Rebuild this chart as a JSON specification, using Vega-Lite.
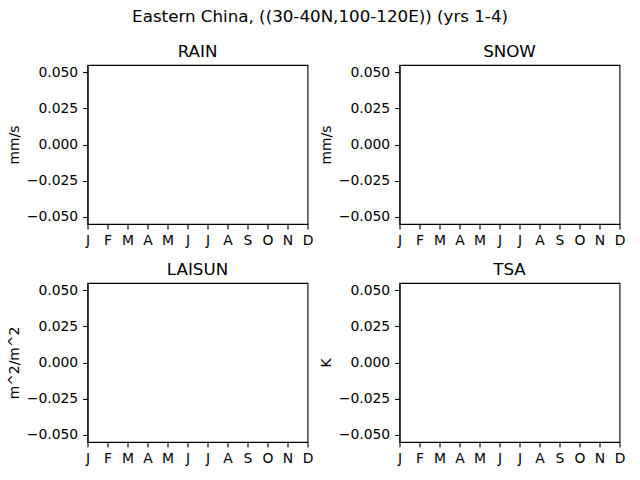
{
  "$schema": "https://vega.github.io/schema/vega-lite/v6.json",
  "autosize": "none",
  "padding": {"left": 87.5, "top": 65, "right": 552.5, "bottom": 415},
  "title": {"text": "Eastern China, ((30-40N,100-120E)) (yrs 1-4)", "anchor": "middle", "baseline": "alphabetic", "offset": 5, "dx": 4},
  "data": {
    "values": [
      {"variable": "RAIN", "month": 1, "value": null}, {"variable": "RAIN", "month": 2, "value": null},
      {"variable": "RAIN", "month": 3, "value": null}, {"variable": "RAIN", "month": 4, "value": null},
      {"variable": "RAIN", "month": 5, "value": null}, {"variable": "RAIN", "month": 6, "value": null},
      {"variable": "RAIN", "month": 7, "value": null}, {"variable": "RAIN", "month": 8, "value": null},
      {"variable": "RAIN", "month": 9, "value": null}, {"variable": "RAIN", "month": 10, "value": null},
      {"variable": "RAIN", "month": 11, "value": null}, {"variable": "RAIN", "month": 12, "value": null},
      {"variable": "SNOW", "month": 1, "value": null}, {"variable": "SNOW", "month": 2, "value": null},
      {"variable": "SNOW", "month": 3, "value": null}, {"variable": "SNOW", "month": 4, "value": null},
      {"variable": "SNOW", "month": 5, "value": null}, {"variable": "SNOW", "month": 6, "value": null},
      {"variable": "SNOW", "month": 7, "value": null}, {"variable": "SNOW", "month": 8, "value": null},
      {"variable": "SNOW", "month": 9, "value": null}, {"variable": "SNOW", "month": 10, "value": null},
      {"variable": "SNOW", "month": 11, "value": null}, {"variable": "SNOW", "month": 12, "value": null},
      {"variable": "LAISUN", "month": 1, "value": null}, {"variable": "LAISUN", "month": 2, "value": null},
      {"variable": "LAISUN", "month": 3, "value": null}, {"variable": "LAISUN", "month": 4, "value": null},
      {"variable": "LAISUN", "month": 5, "value": null}, {"variable": "LAISUN", "month": 6, "value": null},
      {"variable": "LAISUN", "month": 7, "value": null}, {"variable": "LAISUN", "month": 8, "value": null},
      {"variable": "LAISUN", "month": 9, "value": null}, {"variable": "LAISUN", "month": 10, "value": null},
      {"variable": "LAISUN", "month": 11, "value": null}, {"variable": "LAISUN", "month": 12, "value": null},
      {"variable": "TSA", "month": 1, "value": null}, {"variable": "TSA", "month": 2, "value": null},
      {"variable": "TSA", "month": 3, "value": null}, {"variable": "TSA", "month": 4, "value": null},
      {"variable": "TSA", "month": 5, "value": null}, {"variable": "TSA", "month": 6, "value": null},
      {"variable": "TSA", "month": 7, "value": null}, {"variable": "TSA", "month": 8, "value": null},
      {"variable": "TSA", "month": 9, "value": null}, {"variable": "TSA", "month": 10, "value": null},
      {"variable": "TSA", "month": 11, "value": null}, {"variable": "TSA", "month": 12, "value": null}
    ]
  },
  "columns": 2,
  "spacing": {"row": 59, "column": 92},
  "bounds": "flush",
  "concat": [
    {
      "title": "RAIN",
      "width": 220,
      "height": 159,
      "transform": [{"filter": "datum.variable === 'RAIN'"}],
      "mark": {"type": "line", "color": "#1f77b4"},
      "encoding": {
        "x": {"field": "month", "type": "quantitative", "scale": {"domain": [1, 12], "nice": false, "zero": false}, "axis": {"title": null, "values": [1, 2, 3, 4, 5, 6, 7, 8, 9, 10, 11, 12], "labelExpr": "['J','F','M','A','M','J','J','A','S','O','N','D'][datum.value - 1]"}},
        "y": {"field": "value", "type": "quantitative", "scale": {"domain": [-0.055, 0.055], "nice": false, "zero": false}, "axis": {"title": "mm/s", "values": [-0.05, -0.025, 0, 0.025, 0.05], "format": ".3f"}}
      }
    },
    {
      "title": "SNOW",
      "width": 220,
      "height": 159,
      "transform": [{"filter": "datum.variable === 'SNOW'"}],
      "mark": {"type": "line", "color": "#1f77b4"},
      "encoding": {
        "x": {"field": "month", "type": "quantitative", "scale": {"domain": [1, 12], "nice": false, "zero": false}, "axis": {"title": null, "values": [1, 2, 3, 4, 5, 6, 7, 8, 9, 10, 11, 12], "labelExpr": "['J','F','M','A','M','J','J','A','S','O','N','D'][datum.value - 1]"}},
        "y": {"field": "value", "type": "quantitative", "scale": {"domain": [-0.055, 0.055], "nice": false, "zero": false}, "axis": {"title": "mm/s", "values": [-0.05, -0.025, 0, 0.025, 0.05], "format": ".3f"}}
      }
    },
    {
      "title": "LAISUN",
      "width": 220,
      "height": 159,
      "transform": [{"filter": "datum.variable === 'LAISUN'"}],
      "mark": {"type": "line", "color": "#1f77b4"},
      "encoding": {
        "x": {"field": "month", "type": "quantitative", "scale": {"domain": [1, 12], "nice": false, "zero": false}, "axis": {"title": null, "values": [1, 2, 3, 4, 5, 6, 7, 8, 9, 10, 11, 12], "labelExpr": "['J','F','M','A','M','J','J','A','S','O','N','D'][datum.value - 1]"}},
        "y": {"field": "value", "type": "quantitative", "scale": {"domain": [-0.055, 0.055], "nice": false, "zero": false}, "axis": {"title": "m^2/m^2", "values": [-0.05, -0.025, 0, 0.025, 0.05], "format": ".3f"}}
      }
    },
    {
      "title": "TSA",
      "width": 220,
      "height": 159,
      "transform": [{"filter": "datum.variable === 'TSA'"}],
      "mark": {"type": "line", "color": "#1f77b4"},
      "encoding": {
        "x": {"field": "month", "type": "quantitative", "scale": {"domain": [1, 12], "nice": false, "zero": false}, "axis": {"title": null, "values": [1, 2, 3, 4, 5, 6, 7, 8, 9, 10, 11, 12], "labelExpr": "['J','F','M','A','M','J','J','A','S','O','N','D'][datum.value - 1]"}},
        "y": {"field": "value", "type": "quantitative", "scale": {"domain": [-0.055, 0.055], "nice": false, "zero": false}, "axis": {"title": "K", "values": [-0.05, -0.025, 0, 0.025, 0.05], "format": ".3f"}}
      }
    }
  ],
  "config": {
    "font": "DejaVu Sans",
    "background": "white",
    "view": {"stroke": "black", "strokeWidth": 1.1},
    "axis": {
      "grid": false,
      "domainColor": "black",
      "domainWidth": 1.1,
      "tickColor": "black",
      "tickWidth": 1.1,
      "tickSize": 4.9,
      "labelPadding": 4.9,
      "labelFontSize": 13.9,
      "labelColor": "black",
      "labelFlush": false,
      "labelOverlap": false,
      "titleFontSize": 13.9,
      "titleFontWeight": "normal",
      "titleColor": "black",
      "titlePadding": 5
    },
    "title": {"fontSize": 16.7, "fontWeight": "normal", "color": "black", "baseline": "alphabetic", "offset": 4}
  }
}
